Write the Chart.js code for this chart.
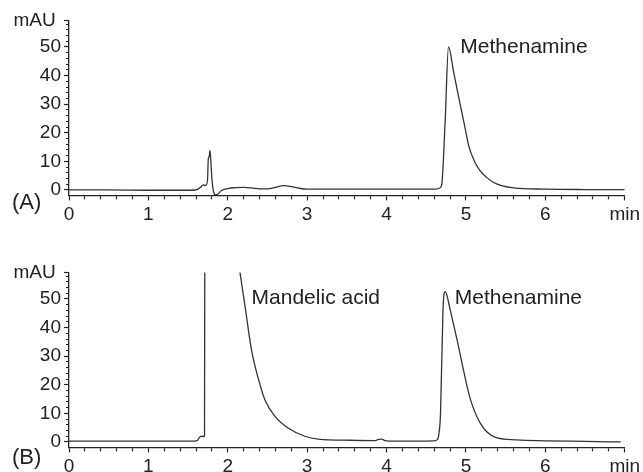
<!DOCTYPE html>
<html>
<head>
<meta charset="utf-8">
<script src="https://cdn.jsdelivr.net/npm/chart.js@4"></script>
<style>
  body { margin: 0; background: #fff; }
  #wrap { position: relative; width: 643px; height: 472px; overflow: hidden; }
  .panel { position: absolute; left: 0; width: 643px; height: 236px; }
</style>
</head>
<body>
<div id="wrap">
  <div class="panel" style="top:0"><canvas id="chartA"></canvas></div>
  <div class="panel" style="top:236px"><canvas id="chartB"></canvas></div>
</div>
<script>
// Data (retention time in min, absorbance in mAU)
const timeA = [0, 0.5, 1.0, 1.55, 1.62, 1.66, 1.69, 1.72, 1.745, 1.755, 1.765, 1.77, 1.775, 1.785, 1.8, 1.82, 1.845, 1.88, 1.92, 2.0, 2.1, 2.2, 2.3, 2.4, 2.5, 2.6, 2.7, 2.8, 2.9, 3.0, 3.5, 4.0, 4.5, 4.62, 4.68, 4.7, 4.74, 4.78, 4.85, 4.92, 4.99, 5.04, 5.1, 5.17, 5.26, 5.35, 5.45, 5.6, 6.0, 6.5, 7.0];
const signalA = [0, 0, -0.1, -0.1, 0.2, 1.0, 1.8, 1.6, 3.5, 11, 11.5, 12.5, 13.8, 11, 4, -0.5, -1.7, -1.3, -0.2, 0.5, 0.8, 0.9, 0.7, 0.4, 0.4, 0.9, 1.5, 1.2, 0.6, 0.3, 0.3, 0.3, 0.3, 0.3, 0.9, 3, 25, 50, 40.5, 31, 21.5, 15, 10.5, 7, 4.4, 2.6, 1.5, 0.7, 0.3, 0.15, 0.1];

const timeB = [0, 1.0, 1.58, 1.62, 1.65, 1.68, 1.7, 1.707, 1.712, 1.72, 1.8, 1.95, 2.0, 2.05, 2.1, 2.15, 2.22, 2.3, 2.39, 2.47, 2.6, 2.76, 2.97, 3.14, 3.55, 3.86, 3.9, 3.94, 3.98, 4.1, 4.4, 4.6, 4.64, 4.66, 4.68, 4.71, 4.725, 4.74, 4.755, 4.8, 4.89, 4.97, 5.05, 5.18, 5.35, 5.64, 6.0, 6.5, 6.95];
const signalB = [0.3, 0.3, 0.3, 0.6, 1.8, 2.0, 1.8, 2.5, 100, 200, 300, 300, 100, 82, 70, 60, 47, 32, 21.6, 14.6, 8.8, 4.9, 2.0, 1.0, 0.6, 0.5, 0.9, 1.0, 0.5, 0.3, 0.3, 0.4, 0.8, 3, 10, 45, 52, 52.6, 51.8, 46.5, 35.5, 25, 15.5, 6.6, 1.9, 0.7, 0.4, 0.2, 0.0];

const xTicksMajor = [0, 1, 2, 3, 4, 5, 6];
const yTicksMajor = [0, 10, 20, 30, 40, 50];
const xUnit = "min";
const yUnit = "mAU";

const yMin = -1.9;
const yMax = 59.3;
const xMin = 0;
const xMax = 7;

const ink = "#222";
const traceColor = "#333";
const fontFamily = "'Liberation Sans', Arial, Helvetica, sans-serif";

function toPoints(xs, ys) {
  return xs.map((x, i) => ({ x: x, y: ys[i] }));
}

function isMajorX(v) {
  return xTicksMajor.some((m) => Math.abs(m - v) < 1e-6) || Math.abs(v - xMax) < 1e-6;
}
function isMajorY(v) {
  return yTicksMajor.includes(v) || v === yMax;
}

// draws the panel tag and the peak names
const panelText = {
  id: "panelText",
  afterDraw(chart, args, opts) {
    const ctx = chart.ctx;
    const xs = chart.scales.x;
    const ys = chart.scales.y;
    ctx.save();
    ctx.fillStyle = ink;
    ctx.textBaseline = "middle";
    ctx.textAlign = "left";
    ctx.font = "22px " + fontFamily;
    ctx.fillText(opts.tag, 12, chart.chartArea.bottom + opts.tagGap);
    ctx.font = "21px " + fontFamily;
    opts.notes.forEach((n) => {
      ctx.fillText(n.text, xs.getPixelForValue(n.x), ys.getPixelForValue(n.y));
    });
    ctx.restore();
  },
};

function makeChart(id, xs, ys, topPad, xAxisHeight, textOpts) {
  return new Chart(document.getElementById(id), {
    type: "line",
    data: {
      datasets: [
        {
          data: toPoints(xs, ys),
          borderColor: traceColor,
          borderWidth: 1.3,
          pointRadius: 0,
          cubicInterpolationMode: "monotone",
          fill: false,
        },
      ],
    },
    options: {
      responsive: true,
      maintainAspectRatio: false,
      animation: false,
      layout: { padding: { top: topPad, right: 15, left: 0, bottom: 0 } },
      plugins: {
        legend: { display: false },
        tooltip: { enabled: false },
        panelText: textOpts,
      },
      scales: {
        x: {
          type: "linear",
          min: xMin,
          max: xMax,
          border: { display: true, color: ink, width: 1.3 },
          grid: {
            display: true,
            drawOnChartArea: false,
            drawTicks: true,
            tickLength: 5,
            tickColor: ink,
            tickWidth: 1.2,
            tickBorderDash: (c) => (isMajorX(c.tick.value) ? [] : [3, 10]),
          },
          ticks: {
            stepSize: 0.2,
            autoSkip: false,
            maxRotation: 0,
            padding: 3,
            color: ink,
            font: { size: 19, family: fontFamily },
            callback: (v) => {
              if (Math.abs(v - xMax) < 1e-6) return xUnit;
              const m = xTicksMajor.find((t) => Math.abs(t - v) < 1e-6);
              return m === undefined ? "" : String(m);
            },
          },
          afterFit: (s) => {
            s.height = xAxisHeight;
          },
        },
        y: {
          type: "linear",
          min: yMin,
          max: yMax,
          border: { display: true, color: ink, width: 1.3 },
          grid: {
            display: true,
            drawOnChartArea: false,
            drawTicks: true,
            tickLength: 5,
            tickColor: ink,
            tickWidth: 1.2,
            tickBorderDash: (c) => (isMajorY(c.tick.value) ? [] : [0, 2, 3, 10]),
          },
          afterBuildTicks: (s) => {
            const t = [];
            for (let v = 0; v <= 58; v += 2) t.push({ value: v });
            t.push({ value: yMax });
            s.ticks = t;
          },
          ticks: {
            autoSkip: false,
            padding: 3,
            color: ink,
            font: { size: 19, family: fontFamily },
            callback: (v) => {
              if (v === yMax) return yUnit + " ";
              return yTicksMajor.includes(v) ? String(v) : "";
            },
          },
          afterFit: (s) => {
            s.width = 69;
          },
        },
      },
    },
    plugins: [panelText],
  });
}

makeChart("chartA", timeA, signalA, 20.4, 40.6, {
  tag: "(A)",
  tagGap: 8,
  notes: [{ text: "Methenamine", x: 4.93, y: 50 }],
});

makeChart("chartB", timeB, signalB, 36.4, 24.6, {
  tag: "(B)",
  tagGap: 10.5,
  notes: [
    { text: "Mandelic acid", x: 2.3, y: 50.3 },
    { text: "Methenamine", x: 4.86, y: 50.3 },
  ],
});
</script>
</body>
</html>
